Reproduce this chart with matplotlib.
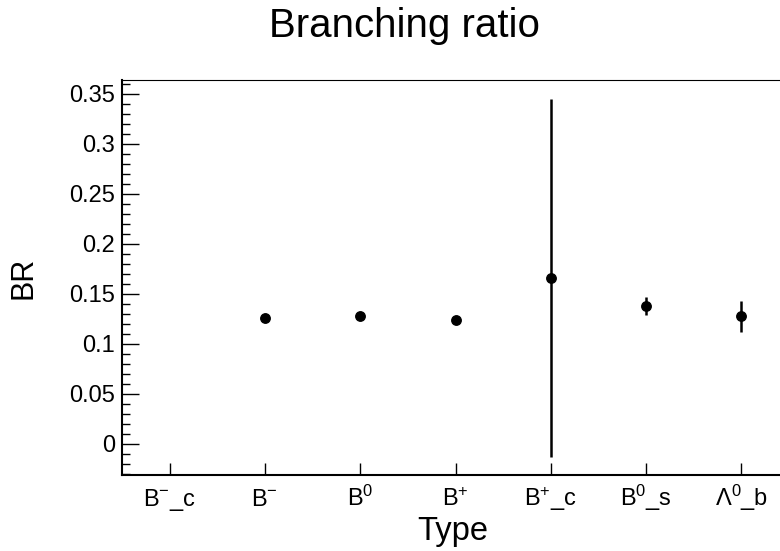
import numpy as np
import matplotlib
matplotlib.use("Agg")
import matplotlib.pyplot as plt
from matplotlib.ticker import MultipleLocator, FuncFormatter

plt.rcParams['font.family'] = ['Liberation Sans', 'DejaVu Sans']
plt.rcParams['mathtext.fontset'] = 'custom'
plt.rcParams['mathtext.rm'] = 'Liberation Sans'
plt.rcParams['mathtext.it'] = 'Liberation Sans:italic'

# branching ratio per hadron type (B-_c has no entry)
types = [r"B$^{-}$_c", r"B$^{-}$", r"B$^{0}$", r"B$^{+}$", r"B$^{+}$_c", r"B$^{0}$_s", r"$\Lambda^{0}$_b"]
br = [np.nan, 0.1257, 0.128, 0.124, 0.166, 0.138, 0.128]
br_err = [np.nan, 0.003, 0.003, 0.003, 0.179, 0.009, 0.0155]

W, H = 780, 551
fig = plt.figure(figsize=(W / 100, H / 100), dpi=100)
# frame in pixels: x 122..789, y 80..475 (right edge runs past the canvas)
ax = fig.add_axes([122 / W, 1 - 475 / H, 667 / W, 395 / H])

x = np.arange(len(types))
ax.errorbar(x, br, yerr=br_err, fmt='o', color='black', ms=6.8,
            elinewidth=1.8, capsize=0)

ax.set_xlim(-0.5, len(types) - 0.5)
ax.set_ylim(-0.031, 0.364)

ax.set_xticks(x)
# baseline-aligned so labels with and without sub/superscripts line up
for lbl in ax.set_xticklabels(types, fontsize=17):
    lbl.set_va('baseline')
ax.yaxis.set_major_locator(MultipleLocator(0.05))
ax.yaxis.set_minor_locator(MultipleLocator(0.01))
ax.yaxis.set_major_formatter(FuncFormatter(lambda v, p: f"{v:g}" if abs(v) > 1e-9 else "0"))

ax.tick_params(axis='y', which='major', direction='in', length=12, width=1, labelsize=17, pad=5)
ax.tick_params(axis='y', which='minor', direction='in', length=5.8, width=1)
ax.tick_params(axis='x', which='major', direction='in', length=8.8, width=1, pad=22.5)
ax.tick_params(axis='x', which='minor', bottom=False)

for side in ('left', 'bottom'):
    ax.spines[side].set_linewidth(1.5)
ax.spines['top'].set_linewidth(0.8)
ax.spines['right'].set_linewidth(1.5)

ax.set_ylabel("BR", fontsize=22)
ax.yaxis.set_label_coords((24 - 122) / 667, 0.5)
ax.yaxis.label.set_va('center')
ax.set_xlabel("Type", fontsize=23.5)
ax.xaxis.set_label_coords((453 - 122) / 667, (475 - 540) / 395)
ax.xaxis.label.set_va('baseline')

fig.suptitle("Branching ratio", x=404 / W, y=1 - 37 / H, va='baseline', fontsize=29)

fig.savefig("out.png", dpi=100)
